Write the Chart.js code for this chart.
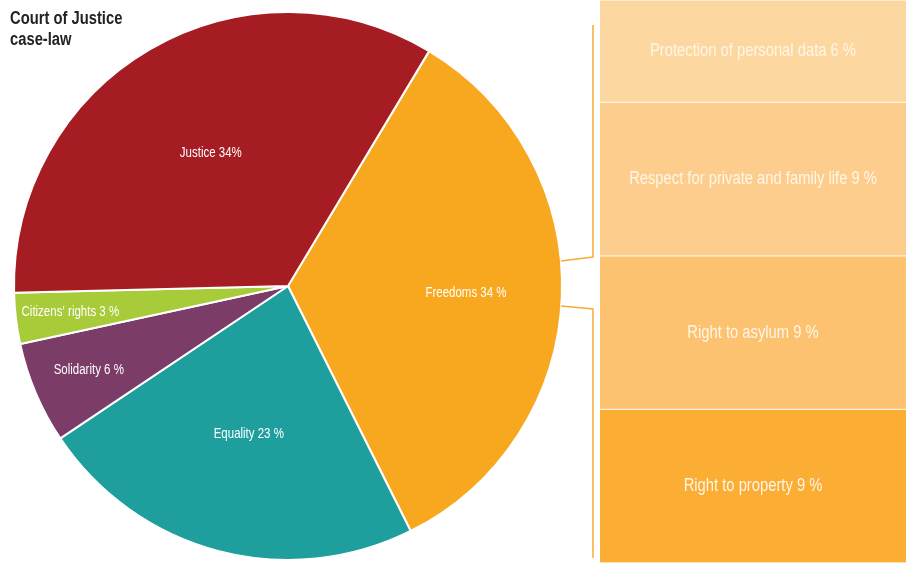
<!DOCTYPE html>
<html>
<head>
<meta charset="utf-8">
<script src="https://cdn.jsdelivr.net/npm/chart.js@4"></script>
<style>
  body { margin: 0; background: #fff; }
  #wrap { position: relative; width: 906px; height: 563px; overflow: hidden; }
  #pie { position: absolute; left: 0; top: 0; }
  #boxes { position: absolute; left: 600px; top: 0; }
  #title {
    position: absolute; left: 10px; top: 8px;
    font-family: "Liberation Sans", sans-serif;
    font-weight: bold; font-size: 18px; line-height: 21px; color: #222;
    transform: scaleX(0.82); transform-origin: 0 0;
  }
</style>
</head>
<body>
<div id="wrap">
  <canvas id="pie" width="906" height="563"></canvas>
  <canvas id="boxes" width="306" height="563"></canvas>
  <div id="title">Court of Justice<br>case-law</div>
</div>
<script>
const pieLabels = ['Freedoms 34 %', 'Equality 23 %', 'Solidarity 6 %', "Citizens’ rights 3 %", 'Justice 34%'];
const pieValues = [34, 23, 6, 3, 34];
const pieColors = ['#F8A81E', '#1F9E9E', '#7B3C67', '#A8CB3A', '#A51C22'];

const boxLabels = ['Protection of personal data 6 %', 'Respect for private and family life 9 %', 'Right to asylum 9 %', 'Right to property 9 %'];
const boxValues = [6, 9, 9, 9];
const boxColors = ['#FDD7A0', '#FCCD8C', '#FCC26F', '#FBAD34'];

const FONT = '"Liberation Sans", sans-serif';
const SQUEEZE = 0.82; // fake a condensed face

// label distance from centre, as fraction of radius
const labelRadius = [0.65, 0.56, 0.79, 0.8, 0.56];

function narrowText(ctx, text, x, y) {
  ctx.save();
  ctx.translate(x, y);
  ctx.scale(SQUEEZE, 1);
  ctx.fillText(text, 0, 0);
  ctx.restore();
}

const pieLabelPlugin = {
  id: 'pieLabels',
  afterDatasetsDraw(chart) {
    const ctx = chart.ctx;
    const arcs = chart.getDatasetMeta(0).data;
    ctx.save();
    ctx.font = '14px ' + FONT;
    ctx.fillStyle = '#fff';
    ctx.textAlign = 'center';
    ctx.textBaseline = 'middle';
    arcs.forEach((arc, i) => {
      const mid = (arc.startAngle + arc.endAngle) / 2;
      const r = arc.outerRadius * labelRadius[i];
      narrowText(ctx, pieLabels[i], arc.x + Math.cos(mid) * r, arc.y + Math.sin(mid) * r);
    });

    // bracket connecting Freedoms to the breakdown boxes
    const arc = arcs[0];
    const R = arc.outerRadius;
    const ex1 = arc.x + Math.sqrt(R * R - Math.pow(261 - arc.y, 2));
    const ex2 = arc.x + Math.sqrt(R * R - Math.pow(306 - arc.y, 2));
    ctx.strokeStyle = '#F7AC35';
    ctx.lineWidth = 1.5;
    ctx.beginPath();
    ctx.moveTo(593, 25);
    ctx.lineTo(593, 257);
    ctx.lineTo(ex1, 261);
    ctx.moveTo(ex2, 306);
    ctx.lineTo(593, 309);
    ctx.lineTo(593, 558);
    ctx.stroke();
    ctx.restore();
  }
};

new Chart(document.getElementById('pie'), {
  type: 'pie',
  data: {
    labels: pieLabels,
    datasets: [{
      data: pieValues,
      backgroundColor: pieColors,
      borderColor: '#fff',
      borderWidth: 2,
    }],
  },
  options: {
    responsive: false,
    animation: false,
    rotation: 31,
    layout: { padding: { left: 13, top: 11, right: 343, bottom: 2 } },
    plugins: { legend: { display: false }, tooltip: { enabled: false } },
  },
  plugins: [pieLabelPlugin],
});

const boxLabelPlugin = {
  id: 'boxLabels',
  afterDatasetsDraw(chart) {
    const ctx = chart.ctx;
    ctx.save();
    ctx.font = '18px ' + FONT;
    ctx.fillStyle = '#FFF6E8';
    ctx.textAlign = 'center';
    ctx.textBaseline = 'middle';
    chart.data.datasets.forEach((ds, i) => {
      const bar = chart.getDatasetMeta(i).data[0];
      const y = (bar.y + bar.base) / 2;
      narrowText(ctx, boxLabels[i], bar.x, y);
    });
    ctx.restore();
  }
};

new Chart(document.getElementById('boxes'), {
  type: 'bar',
  data: {
    labels: ['Freedoms'],
    datasets: boxValues.map((v, i) => ({
      label: boxLabels[i],
      data: [v],
      backgroundColor: boxColors[i],
      borderColor: '#FFF3E0',
      borderWidth: { top: 1, bottom: 1, left: 0, right: 0 },
      borderSkipped: false,
      categoryPercentage: 1,
      barPercentage: 1,
    })),
  },
  options: {
    responsive: false,
    animation: false,
    layout: { padding: 0 },
    scales: {
      x: { stacked: true, display: false },
      y: { stacked: true, display: false, reverse: true, min: 0, max: 33 },
    },
    plugins: { legend: { display: false }, tooltip: { enabled: false } },
  },
  plugins: [boxLabelPlugin],
});
</script>
</body>
</html>
